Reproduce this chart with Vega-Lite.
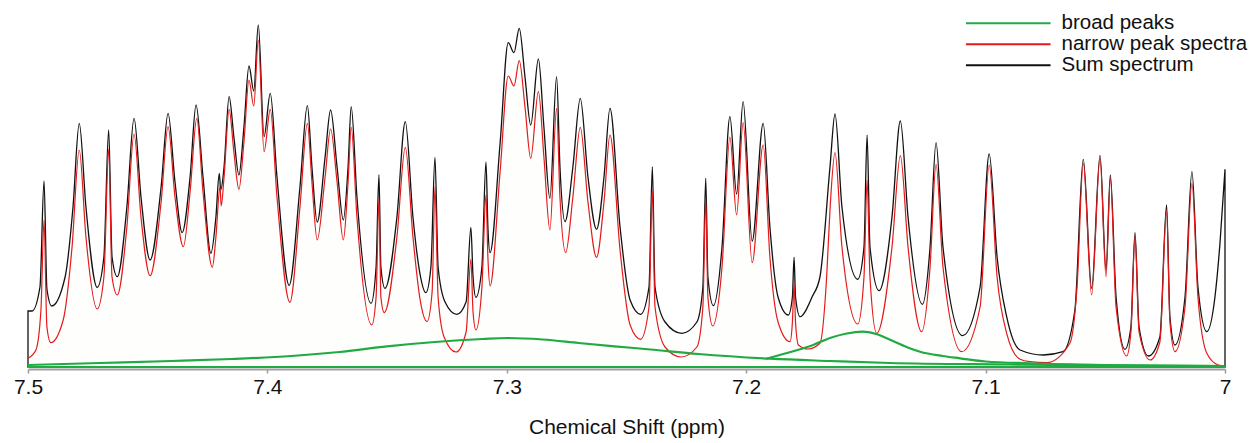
{
  "$schema": "https://vega.github.io/schema/vega-lite/v6.json",
  "width": 1197,
  "height": 359,
  "autosize": {"type": "none"},
  "padding": {"left": 28, "top": 10, "right": 32, "bottom": 74},
  "background": "white",
  "config": {
    "view": {"stroke": null},
    "font": "Liberation Sans",
    "axis": {"labelFont": "Liberation Sans", "titleFont": "Liberation Sans"},
    "legend": {"labelFont": "Liberation Sans"}
  },
  "datasets": {
    "sum": [
      {"x":7.5,"y":56},{"x":7.4983,"y":56},{"x":7.4950,"y":80},{"x":7.4933,"y":186},{"x":7.4921,"y":78},{"x":7.4901,"y":61},
      {"x":7.4845,"y":90},{"x":7.4812,"y":160},{"x":7.4786,"y":243.7},{"x":7.4758,"y":160},{"x":7.4711,"y":79.7},
      {"x":7.4683,"y":110},{"x":7.4663,"y":237},{"x":7.4649,"y":110},{"x":7.4627,"y":90.3},
      {"x":7.4587,"y":160},{"x":7.4557,"y":248.7},{"x":7.4528,"y":170},{"x":7.4490,"y":107},
      {"x":7.4444,"y":180},{"x":7.4415,"y":253.7},{"x":7.4386,"y":185},{"x":7.4356,"y":134.3},
      {"x":7.4323,"y":190},{"x":7.4298,"y":262},{"x":7.4269,"y":190},{"x":7.4236,"y":113.7},
      {"x":7.4215,"y":150},{"x":7.4201,"y":193.7},{"x":7.4195,"y":177},{"x":7.4181,"y":200},{"x":7.4160,"y":270.3},
      {"x":7.4140,"y":230},{"x":7.4119,"y":192},{"x":7.4098,"y":240},{"x":7.4077,"y":301},{"x":7.4057,"y":276},
      {"x":7.4038,"y":342},{"x":7.4014,"y":230.3},{"x":7.3988,"y":273.7},{"x":7.3960,"y":190},{"x":7.3909,"y":81.7},
      {"x":7.3864,"y":180},{"x":7.3833,"y":261.3},{"x":7.3814,"y":200},{"x":7.3792,"y":145},
      {"x":7.3759,"y":210},{"x":7.3736,"y":257},{"x":7.3709,"y":200},{"x":7.3683,"y":147},
      {"x":7.3663,"y":200},{"x":7.3650,"y":260.3},{"x":7.3626,"y":170},{"x":7.3567,"y":63.7},
      {"x":7.3546,"y":100},{"x":7.3534,"y":192.3},{"x":7.3526,"y":100},{"x":7.3509,"y":78.7},
      {"x":7.3459,"y":150},{"x":7.3424,"y":245.3},{"x":7.3392,"y":150},{"x":7.3363,"y":93.7},{"x":7.3338,"y":74.3},
      {"x":7.3317,"y":100},{"x":7.3300,"y":209.7},{"x":7.3287,"y":100},{"x":7.3258,"y":65},{"x":7.3209,"y":52.7},
      {"x":7.3170,"y":65},{"x":7.3150,"y":139.7},{"x":7.3141,"y":90},{"x":7.3129,"y":69.7},
      {"x":7.3104,"y":100},{"x":7.3087,"y":205},{"x":7.3079,"y":140},{"x":7.3070,"y":114.3},
      {"x":7.3028,"y":223.7},{"x":7.2994,"y":324.3},{"x":7.2970,"y":314.3},{"x":7.2948,"y":338.7},
      {"x":7.2924,"y":290},{"x":7.2900,"y":242},{"x":7.2868,"y":308},{"x":7.2845,"y":240},{"x":7.2820,"y":168.7},
      {"x":7.2792,"y":290.3},{"x":7.2778,"y":200},{"x":7.2757,"y":145.3},{"x":7.2724,"y":200},{"x":7.2693,"y":268.7},
      {"x":7.2661,"y":190},{"x":7.2625,"y":137.7},{"x":7.2594,"y":190},{"x":7.2569,"y":258.7},
      {"x":7.2527,"y":140},{"x":7.2485,"y":67},{"x":7.2441,"y":52.7},
      {"x":7.2406,"y":80},{"x":7.2392,"y":200.3},{"x":7.2381,"y":80},{"x":7.2339,"y":45},{"x":7.2269,"y":33.7},
      {"x":7.2206,"y":45},{"x":7.2181,"y":80},{"x":7.2169,"y":188.7},{"x":7.2160,"y":90},{"x":7.2137,"y":61.3},
      {"x":7.2101,"y":120},{"x":7.2068,"y":250.3},{"x":7.2040,"y":173},{"x":7.2013,"y":265.3},{"x":7.1975,"y":126},
      {"x":7.1929,"y":243.7},{"x":7.1901,"y":140},{"x":7.1867,"y":70},{"x":7.1824,"y":52},
      {"x":7.1807,"y":70},{"x":7.1800,"y":109.7},{"x":7.1794,"y":70},{"x":7.1775,"y":50.3},
      {"x":7.1725,"y":70},{"x":7.1692,"y":90},{"x":7.1650,"y":200},{"x":7.1629,"y":253},{"x":7.1600,"y":160},{"x":7.1534,"y":87.7},
      {"x":7.1508,"y":120},{"x":7.1495,"y":232},{"x":7.1483,"y":120},{"x":7.1445,"y":76.3},
      {"x":7.1391,"y":150},{"x":7.1356,"y":246},{"x":7.1324,"y":150},{"x":7.1264,"y":62.7},
      {"x":7.1232,"y":120},{"x":7.1207,"y":224.3},{"x":7.1178,"y":120},{"x":7.1096,"y":31.3},
      {"x":7.1023,"y":80},{"x":7.0985,"y":213},{"x":7.0952,"y":110},{"x":7.0912,"y":50.3},
      {"x":7.0856,"y":17},{"x":7.0759,"y":12},{"x":7.0677,"y":15.3},{"x":7.0627,"y":57},
      {"x":7.0592,"y":207.7},{"x":7.0557,"y":78.7},{"x":7.0522,"y":211.7},{"x":7.0497,"y":97},{"x":7.0479,"y":192},
      {"x":7.0455,"y":70},{"x":7.0418,"y":17.7},{"x":7.0393,"y":40},{"x":7.0376,"y":134.3},{"x":7.0359,"y":40},
      {"x":7.0320,"y":11},{"x":7.0272,"y":30},{"x":7.0244,"y":162},{"x":7.0230,"y":50},{"x":7.0209,"y":22},
      {"x":7.0167,"y":70},{"x":7.0138,"y":195.3},{"x":7.0113,"y":80},{"x":7.0076,"y":35.3},
      {"x":7.0042,"y":70},{"x":7.0021,"y":123.7},{"x":7.0,"y":197.7}
    ],
    "narrow": [
      {"x":7.5,"y":8.7},{"x":7.4967,"y":17},{"x":7.4946,"y":57},{"x":7.4933,"y":147},{"x":7.4921,"y":40},{"x":7.4905,"y":24.3},
      {"x":7.4853,"y":47},{"x":7.4816,"y":120},{"x":7.4786,"y":217},{"x":7.4758,"y":130},{"x":7.4711,"y":58},
      {"x":7.4683,"y":90},{"x":7.4663,"y":217.7},{"x":7.4649,"y":90},{"x":7.4627,"y":72},
      {"x":7.4587,"y":140},{"x":7.4557,"y":233},{"x":7.4528,"y":150},{"x":7.4490,"y":91.3},
      {"x":7.4444,"y":165},{"x":7.4415,"y":240.3},{"x":7.4386,"y":170},{"x":7.4351,"y":120.3},
      {"x":7.4323,"y":175},{"x":7.4295,"y":248.7},{"x":7.4269,"y":175},{"x":7.4230,"y":99.7},
      {"x":7.4215,"y":130},{"x":7.4198,"y":180.3},{"x":7.4193,"y":161},{"x":7.4181,"y":190},{"x":7.4160,"y":257.7},
      {"x":7.4140,"y":215},{"x":7.4119,"y":177.7},{"x":7.4098,"y":225},{"x":7.4077,"y":287},{"x":7.4057,"y":261},
      {"x":7.4038,"y":327},{"x":7.4014,"y":215.3},{"x":7.3988,"y":257.7},{"x":7.3960,"y":170},{"x":7.3906,"y":64.7},
      {"x":7.3864,"y":160},{"x":7.3833,"y":243.7},{"x":7.3814,"y":185},{"x":7.3792,"y":127},
      {"x":7.3759,"y":190},{"x":7.3736,"y":238},{"x":7.3709,"y":185},{"x":7.3683,"y":127},
      {"x":7.3663,"y":185},{"x":7.3650,"y":239.7},{"x":7.3626,"y":150},{"x":7.3564,"y":42},
      {"x":7.3546,"y":70},{"x":7.3534,"y":168.7},{"x":7.3526,"y":70},{"x":7.3512,"y":54.3},
      {"x":7.3459,"y":130},{"x":7.3424,"y":219.7},{"x":7.3392,"y":130},{"x":7.3363,"y":68.7},{"x":7.3333,"y":45.5},
      {"x":7.3312,"y":75},{"x":7.3300,"y":180.3},{"x":7.3287,"y":70},{"x":7.3262,"y":30},{"x":7.3212,"y":15},
      {"x":7.3170,"y":35},{"x":7.3150,"y":107.7},{"x":7.3141,"y":55},{"x":7.3129,"y":37},
      {"x":7.3104,"y":80},{"x":7.3087,"y":172},{"x":7.3079,"y":110},{"x":7.3070,"y":81},
      {"x":7.3028,"y":195},{"x":7.2994,"y":291},{"x":7.2970,"y":281},{"x":7.2948,"y":306.3},
      {"x":7.2924,"y":260},{"x":7.2900,"y":208.7},{"x":7.2868,"y":275.3},{"x":7.2845,"y":210},{"x":7.2820,"y":137},
      {"x":7.2792,"y":258.7},{"x":7.2778,"y":170},{"x":7.2754,"y":114.3},{"x":7.2724,"y":170},{"x":7.2693,"y":239.7},
      {"x":7.2661,"y":165},{"x":7.2625,"y":109.7},{"x":7.2594,"y":165},{"x":7.2569,"y":232},
      {"x":7.2527,"y":117},{"x":7.2485,"y":42},{"x":7.2441,"y":27.7},
      {"x":7.2406,"y":60},{"x":7.2392,"y":177},{"x":7.2381,"y":60},{"x":7.2339,"y":20},{"x":7.2272,"y":10},
      {"x":7.2206,"y":20},{"x":7.2181,"y":60},{"x":7.2169,"y":168.7},{"x":7.2160,"y":70},{"x":7.2140,"y":41},
      {"x":7.2101,"y":100},{"x":7.2068,"y":229.7},{"x":7.2040,"y":152},{"x":7.2013,"y":244.3},{"x":7.1975,"y":104.3},
      {"x":7.1929,"y":222},{"x":7.1901,"y":110},{"x":7.1867,"y":45},{"x":7.1817,"y":25.3},
      {"x":7.1807,"y":45},{"x":7.1800,"y":83.7},{"x":7.1794,"y":45},{"x":7.1782,"y":22},
      {"x":7.1742,"y":18},{"x":7.1692,"y":23.7},{"x":7.1664,"y":90},{"x":7.1650,"y":157},{"x":7.1629,"y":214.3},
      {"x":7.1600,"y":120},{"x":7.1534,"y":43},
      {"x":7.1508,"y":90},{"x":7.1495,"y":187},{"x":7.1483,"y":90},{"x":7.1455,"y":33.7},
      {"x":7.1391,"y":120},{"x":7.1356,"y":211.3},{"x":7.1324,"y":120},{"x":7.1267,"y":35.3},
      {"x":7.1232,"y":100},{"x":7.1207,"y":202.7},{"x":7.1178,"y":100},{"x":7.1100,"y":15.3},
      {"x":7.1023,"y":60},{"x":7.0985,"y":202},{"x":7.0952,"y":90},{"x":7.0912,"y":33.7},
      {"x":7.0856,"y":7.7},{"x":7.0815,"y":5.3},{"x":7.0745,"y":4.3},{"x":7.0648,"y":23.7},{"x":7.0618,"y":80},
      {"x":7.0592,"y":203.7},{"x":7.0557,"y":72},{"x":7.0522,"y":208.7},{"x":7.0497,"y":90.3},{"x":7.0479,"y":188.7},
      {"x":7.0455,"y":60},{"x":7.0411,"y":11},{"x":7.0393,"y":35},{"x":7.0376,"y":130.3},{"x":7.0359,"y":35},
      {"x":7.0313,"y":7},{"x":7.0272,"y":25},{"x":7.0244,"y":157},{"x":7.0230,"y":45},{"x":7.0209,"y":15.3},
      {"x":7.0167,"y":60},{"x":7.0138,"y":183.7},{"x":7.0113,"y":70},{"x":7.0076,"y":13.7},
      {"x":7.0028,"y":2},{"x":7.0,"y":1}
    ],
    "broad": [
      {"c":"a","x":7.5,"y":2},{"c":"a","x":7.47,"y":4},{"c":"a","x":7.44,"y":6},{"c":"a","x":7.415,"y":8},
      {"c":"a","x":7.39,"y":11},{"c":"a","x":7.37,"y":15},{"c":"a","x":7.35,"y":20.7},{"c":"a","x":7.33,"y":25},
      {"c":"a","x":7.31,"y":28},{"c":"a","x":7.30,"y":29},{"c":"a","x":7.285,"y":27.5},{"c":"a","x":7.27,"y":24},
      {"c":"a","x":7.255,"y":20.7},{"c":"a","x":7.24,"y":17.5},{"c":"a","x":7.22,"y":13},{"c":"a","x":7.19,"y":8.3},
      {"c":"a","x":7.165,"y":6},{"c":"a","x":7.14,"y":4},{"c":"a","x":7.09,"y":2.5},{"c":"a","x":7.05,"y":1.5},{"c":"a","x":7.0,"y":1},
      {"c":"b","x":7.1917,"y":8.3},{"c":"b","x":7.18,"y":16},{"c":"b","x":7.1718,"y":22.3},{"c":"b","x":7.165,"y":29},
      {"c":"b","x":7.158,"y":33.5},{"c":"b","x":7.1512,"y":35.3},{"c":"b","x":7.145,"y":32.5},{"c":"b","x":7.1413,"y":28.7},
      {"c":"b","x":7.134,"y":21},{"c":"b","x":7.1274,"y":15.3},{"c":"b","x":7.118,"y":11},{"c":"b","x":7.1107,"y":8.7},
      {"c":"b","x":7.1,"y":5.5},{"c":"b","x":7.0815,"y":3.7},{"c":"b","x":7.05,"y":2},{"c":"b","x":7.0,"y":1},
      {"c":"c","x":7.5,"y":0},{"c":"c","x":7.0,"y":0}
    ]
  },
  "encoding": {
    "x": {
      "field": "x", "type": "quantitative",
      "scale": {"domain": [7, 7.5], "reverse": true, "nice": false, "zero": false},
      "axis": {
        "title": "Chemical Shift (ppm)",
        "values": [7.5, 7.4, 7.3, 7.2, 7.1, 7],
        "format": ".1~f",
        "grid": false,
        "labelFlush": false,
        "labelFontSize": 21, "labelColor": "#111111", "labelPadding": 3,
        "tickSize": 4, "tickColor": "#999999", "tickWidth": 1.5,
        "domainColor": "#a0a0a0", "domainWidth": 2,
        "titleFontSize": 21, "titleFontWeight": "normal", "titleColor": "#111111", "titlePadding": 19
      }
    },
    "y": {
      "field": "y", "type": "quantitative",
      "scale": {"domain": [-2, 357], "nice": false, "zero": false},
      "axis": null
    }
  },
  "layer": [
    {
      "data": {"name": "sum"},
      "mark": {"type": "area", "interpolate": "monotone", "filled": false, "fill": "#fefefc", "strokeWidth": 1.3, "y2": {"expr": "scale('y', 0)"}},
      "encoding": {
        "color": {"datum": "Sum spectrum", "type": "nominal",
          "scale": {"domain": ["broad peaks", "narrow peak spectra", "Sum spectrum"], "range": ["#20aa44", "#e4191c", "#111111"]},
          "legend": {
            "orient": "none", "legendX": 970, "legendY": 3, "title": null,
            "symbolType": "M-4.7,0H4.7", "symbolSize": 324, "symbolStrokeWidth": 2,
            "labelFontSize": 20.5, "labelColor": "#111111", "labelOffset": 43, "labelLimit": 400, "rowPadding": 0
          }
        }
      }
    },
    {
      "data": {"name": "narrow"},
      "mark": {"type": "line", "interpolate": "monotone", "strokeWidth": 1.2},
      "encoding": {"color": {"datum": "narrow peak spectra", "type": "nominal"}}
    },
    {
      "data": {"name": "broad"},
      "mark": {"type": "line", "interpolate": "monotone", "strokeWidth": 2.2},
      "encoding": {
        "color": {"datum": "broad peaks", "type": "nominal"},
        "detail": {"field": "c", "type": "nominal"}
      }
    }
  ]
}
